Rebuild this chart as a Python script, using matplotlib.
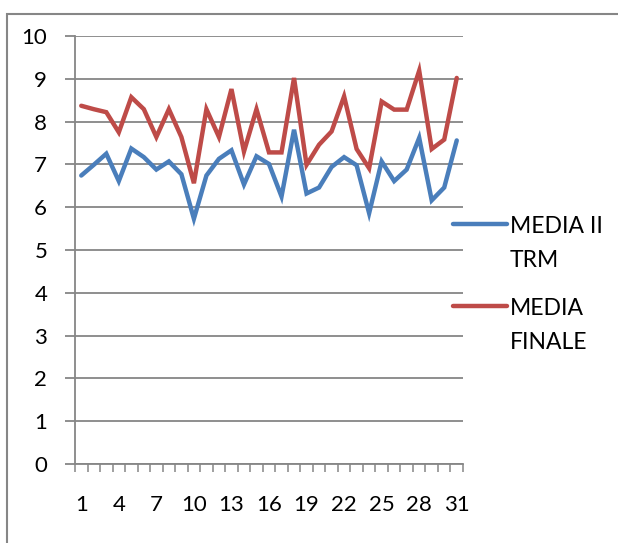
import matplotlib
matplotlib.use("Agg")
import matplotlib.pyplot as plt
from matplotlib.patches import Rectangle
from matplotlib.lines import Line2D
import numpy as np

days = list(range(1, 32))
media_ii_trm = [6.74, 6.99, 7.25, 6.61, 7.37, 7.17, 6.88, 7.07, 6.77, 5.73,
                6.74, 7.13, 7.33, 6.53, 7.19, 7.01, 6.25, 7.81, 6.32, 6.46,
                6.94, 7.17, 6.98, 5.86, 7.07, 6.61, 6.88, 7.62, 6.16, 6.46, 7.56]
media_finale = [8.37, 8.29, 8.22, 7.75, 8.57, 8.29, 7.64, 8.29, 7.64, 6.56,
                8.29, 7.64, 8.76, 7.30, 8.29, 7.28, 7.28, 9.02, 6.99, 7.46,
                7.77, 8.59, 7.36, 6.91, 8.47, 8.28, 8.28, 9.19, 7.36, 7.58, 9.02]
labels = ["MEDIA II\nTRM", "MEDIA\nFINALE"]
yticks = list(range(0, 11))
xlabel_days = days[::3]

plt.rcParams['font.family'] = ['Lato', 'DejaVu Sans']
W, H = 618, 543
fig = plt.figure(figsize=(W / 100, H / 100), dpi=100)
fig.patch.set_facecolor('white')

grey = '#868686'
FS = 16
# outer chart border
fig.add_artist(Rectangle((7 / W, -0.1), 1.2, 1 - 14 / H + 0.1, transform=fig.transFigure,
                         fill=False, edgecolor=grey, linewidth=1.5))

ax = fig.add_axes([75 / W, 1 - 464 / H, (463 - 75) / W, (464 - 36) / H])
blue = '#4A7EBB'
red = '#BE4B48'
colors = [blue, red]
series = [media_ii_trm, media_finale]
for vals, c in zip(series, colors):
    ax.plot(days, vals, color=c, linewidth=3.2, solid_joinstyle='miter', solid_capstyle='round')

ax.set_xlim(0.5, 31.5)
ax.set_ylim(0, 10)
ax.set_yticks(yticks)
ax.set_yticklabels([str(v) for v in yticks])
ax.yaxis.grid(True, color=grey, linewidth=1.3)
ax.set_axisbelow(True)
for s in ['top', 'right']:
    ax.spines[s].set_visible(False)
for s in ['left', 'bottom']:
    ax.spines[s].set_color(grey)
    ax.spines[s].set_linewidth(1.3)

ax.set_xticks(np.arange(0.5, 32, 1.0))
ax.set_xticklabels([])
ax.set_xticks(xlabel_days, minor=True)
ax.set_xticklabels([str(d) for d in xlabel_days], minor=True)
ax.tick_params(axis='x', which='major', direction='out', length=6, width=1.1, color=grey)
ax.tick_params(axis='x', which='minor', length=0, pad=22, labelsize=FS)
ax.tick_params(axis='y', direction='out', length=7, width=1.3, color=grey, pad=13, labelsize=FS)

# legend (first line of each label aligned with its key line)
key_y = [224, 306]
for lab, c, y in zip(labels, colors, key_y):
    fig.add_artist(Line2D([453 / W, 507 / W], [1 - y / H, 1 - y / H], transform=fig.transFigure,
                          color=c, linewidth=3.2, solid_capstyle='round'))
    fig.text(510 / W, 1 - (y - 8) / H, lab, ha='left', va='top', fontsize=FS + 0.5,
             linespacing=1.75, color='black')

fig.savefig('out.png', dpi=100)
